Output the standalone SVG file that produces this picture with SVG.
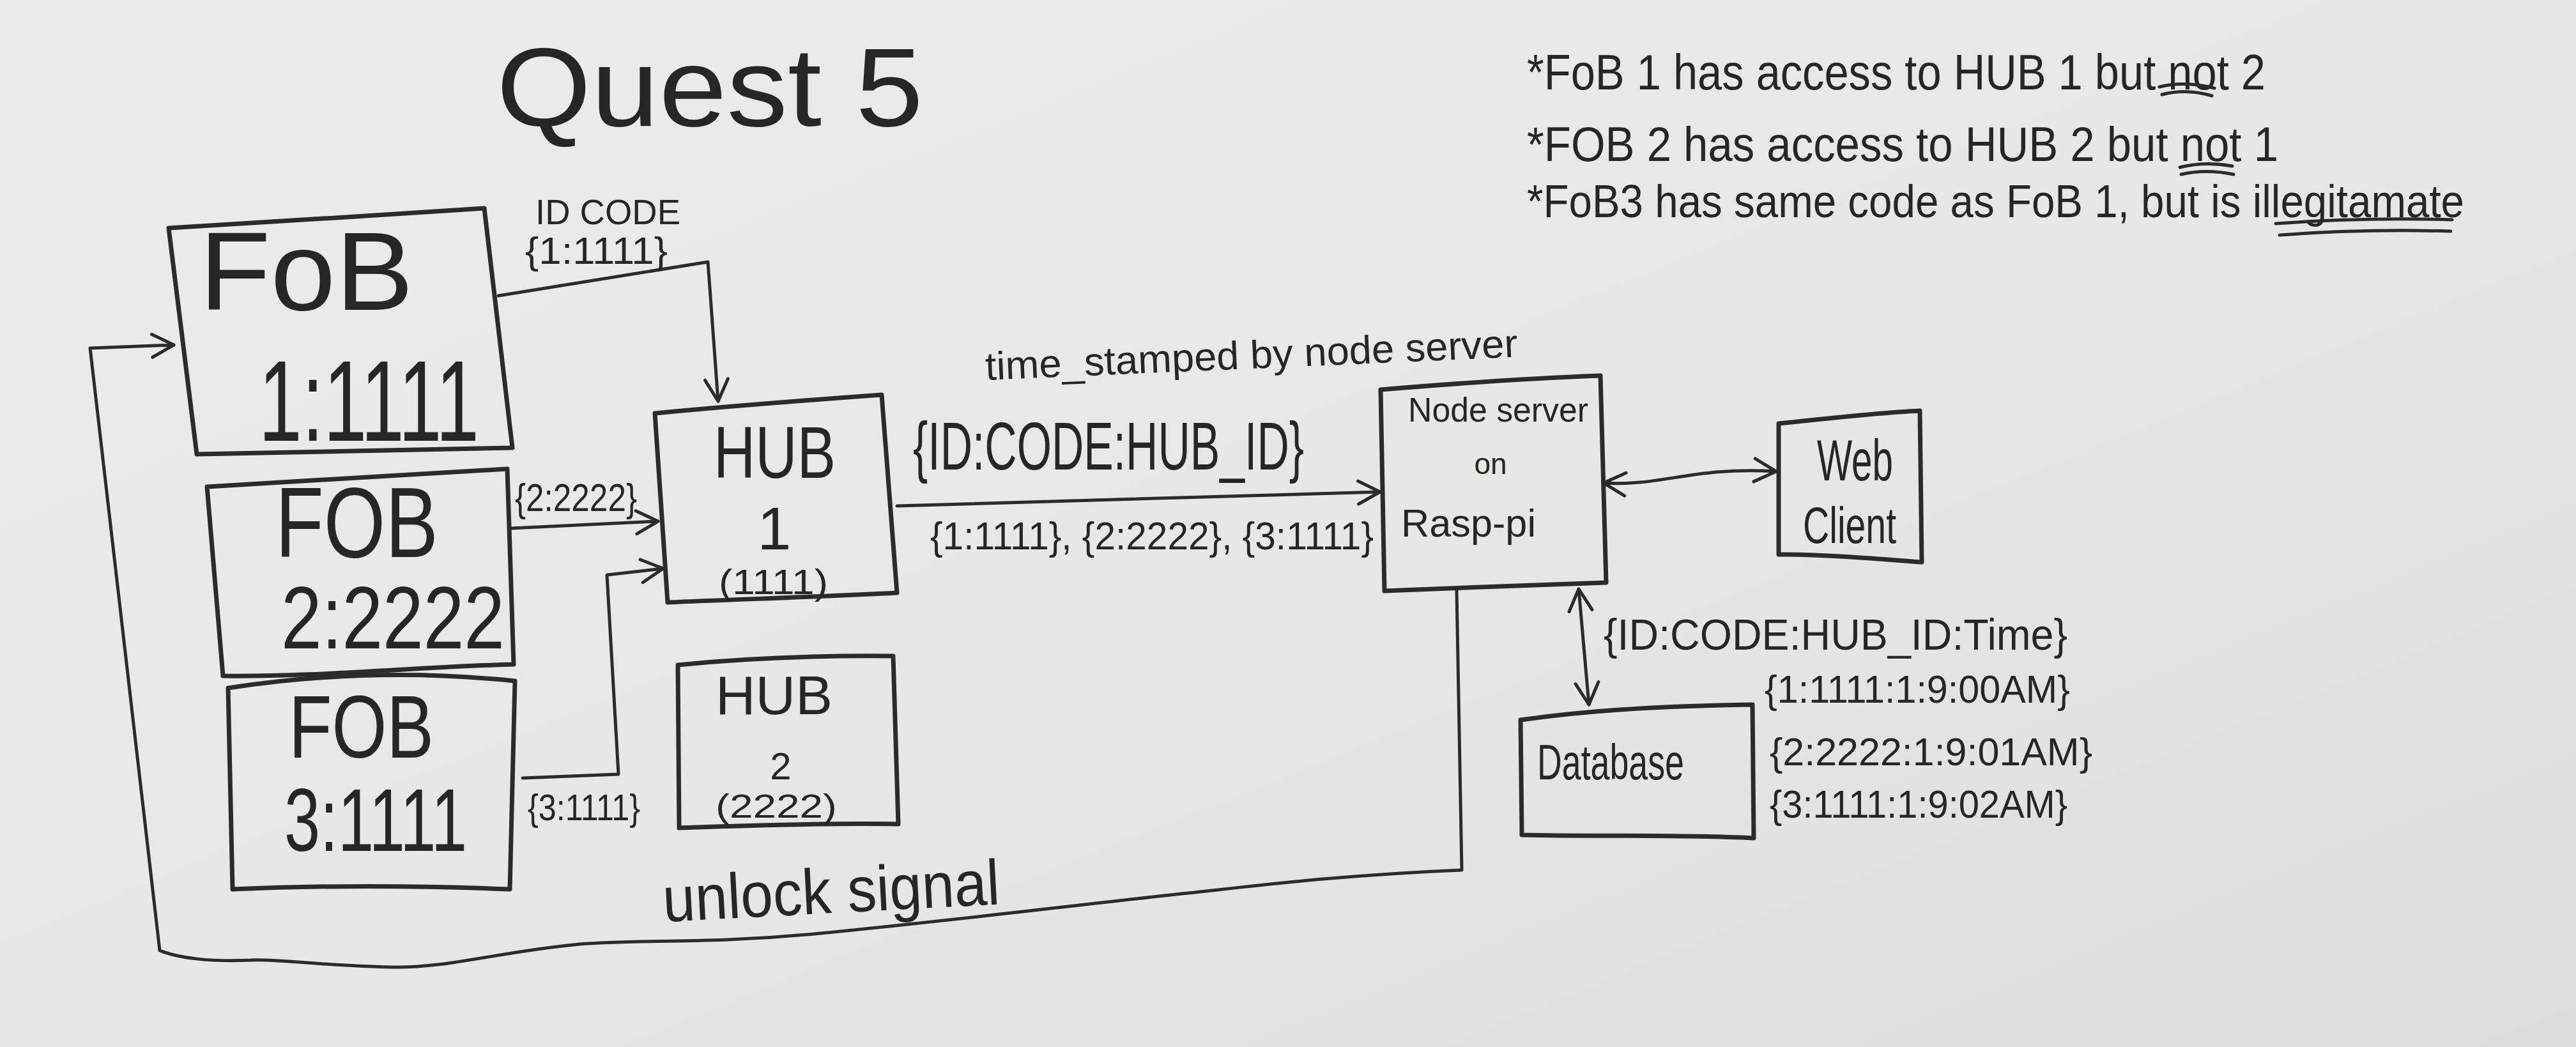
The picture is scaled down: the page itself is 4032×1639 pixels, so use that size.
<svg xmlns="http://www.w3.org/2000/svg" width="4032" height="1639" viewBox="0 0 4032 1639">
<defs>
<linearGradient id="bg" x1="0" y1="0" x2="1" y2="1">
<stop offset="0" stop-color="#ececea"/>
<stop offset="0.6" stop-color="#e6e6e4"/>
<stop offset="1" stop-color="#dcdcda"/>
</linearGradient>
<marker id="ah" viewBox="0 0 44 44" refX="40" refY="22" markerWidth="44" markerHeight="44" orient="auto-start-reverse" markerUnits="userSpaceOnUse">
<path d="M6,4 L40,22 L6,40" fill="none" stroke="#2b2b2b" stroke-width="5" stroke-linecap="round" stroke-linejoin="round"/>
</marker>
<style>
.box{fill:none;stroke:#2b2b2b;stroke-width:7;stroke-linejoin:round;stroke-linecap:round}
.con{fill:none;stroke:#2b2b2b;stroke-width:5;stroke-linejoin:round;stroke-linecap:round}
.ul{fill:none;stroke:#2b2b2b;stroke-width:5;stroke-linecap:round}
text{font-family:"Liberation Sans Narrow","Liberation Sans",Arial,sans-serif;fill:#262626}
</style>
</defs>
<rect x="0" y="0" width="4032" height="1639" fill="url(#bg)"/>

<g id="title">
<text x="777" y="197" font-size="175" textLength="668" lengthAdjust="spacingAndGlyphs">Quest 5</text>
</g>

<g id="notes">
<text x="2390" y="140" font-size="78" textLength="1156" lengthAdjust="spacingAndGlyphs">*FoB 1 has access to HUB 1 but not 2</text>
<text x="2390" y="252" font-size="76" textLength="1176" lengthAdjust="spacingAndGlyphs">*FOB 2 has access to HUB 2 but not 1</text>
<text x="2390" y="340" font-size="72" textLength="1467" lengthAdjust="spacingAndGlyphs">*FoB3 has same code as FoB 1, but is illegitamate</text>
<path class="ul" d="M3380,136 Q3420,126 3466,138"/>
<path class="ul" d="M3384,148 Q3422,138 3462,150"/>
<path class="ul" d="M3412,262 Q3452,252 3494,260"/>
<path class="ul" d="M3414,273 Q3452,264 3496,273"/>
<path class="ul" d="M3562,350 Q3700,340 3838,344"/>
<path class="ul" d="M3568,368 Q3700,358 3836,362"/>
</g>

<g id="fob1">
<path class="box" d="M264,357 C420,348 600,336 758,326 L802,701 C640,704 470,708 308,711 Z"/>
<text x="312" y="485" font-size="175" textLength="335" lengthAdjust="spacingAndGlyphs">FoB</text>
<text x="405" y="690" font-size="180" textLength="345" lengthAdjust="spacingAndGlyphs">1:1111</text>
</g>

<g id="fob2">
<path class="box" d="M324,762 C480,752 640,744 794,734 L804,1040 C650,1044 500,1060 349,1058 Z"/>
<text x="431" y="872" font-size="155" textLength="255" lengthAdjust="spacingAndGlyphs">FOB</text>
<text x="440" y="1015" font-size="140" textLength="350" lengthAdjust="spacingAndGlyphs">2:2222</text>
</g>

<g id="fob3">
<path class="box" d="M357,1077 C500,1055 650,1050 806,1066 L798,1392 C650,1386 500,1386 364,1392 Z"/>
<text x="452" y="1186" font-size="140" textLength="227" lengthAdjust="spacingAndGlyphs">FOB</text>
<text x="445" y="1332" font-size="140" textLength="286" lengthAdjust="spacingAndGlyphs">3:1111</text>
</g>

<g id="hub1">
<path class="box" d="M1025,647 C1150,635 1270,626 1380,618 L1404,928 C1290,934 1160,938 1045,943 Z"/>
<text x="1117" y="748" font-size="115" textLength="191" lengthAdjust="spacingAndGlyphs">HUB</text>
<text x="1212" y="860" font-size="95" text-anchor="middle">1</text>
<text x="1125" y="930" font-size="55" textLength="171" lengthAdjust="spacingAndGlyphs">(1111)</text>
</g>

<g id="hub2">
<path class="box" d="M1061,1041 C1170,1030 1290,1026 1398,1027 L1406,1290 C1290,1288 1170,1292 1063,1296 Z"/>
<text x="1120" y="1118" font-size="85" textLength="183" lengthAdjust="spacingAndGlyphs">HUB</text>
<text x="1222" y="1220" font-size="60" text-anchor="middle">2</text>
<text x="1120" y="1280" font-size="52" textLength="190" lengthAdjust="spacingAndGlyphs">(2222)</text>
</g>

<g id="nodeserver">
<path class="box" d="M2161,610 C2280,600 2400,592 2505,588 L2514,912 C2400,916 2280,920 2167,925 Z"/>
<text x="2204" y="660" font-size="54" textLength="282" lengthAdjust="spacingAndGlyphs">Node server</text>
<text x="2333" y="742" font-size="46" text-anchor="middle">on</text>
<text x="2193" y="840" font-size="62" textLength="211" lengthAdjust="spacingAndGlyphs">Rasp-pi</text>
</g>

<g id="webclient">
<path class="box" d="M2784,663 C2860,655 2940,646 3005,643 L3008,880 C2930,874 2860,868 2784,868 Z"/>
<text x="2844" y="752" font-size="90" textLength="119" lengthAdjust="spacingAndGlyphs">Web</text>
<text x="2822" y="850" font-size="80" textLength="146" lengthAdjust="spacingAndGlyphs">Client</text>
</g>

<g id="database">
<path class="box" d="M2380,1127 C2500,1110 2620,1105 2743,1103 L2745,1312 C2620,1306 2500,1310 2382,1307 Z"/>
<text x="2406" y="1220" font-size="78" textLength="230" lengthAdjust="spacingAndGlyphs">Database</text>
</g>

<g id="connectors">
<path class="con" d="M780,463 L1108,410 L1124,628" marker-end="url(#ah)"/>
<path class="con" d="M800,827 L1030,816" marker-end="url(#ah)"/>
<path class="con" d="M818,1218 L968,1212 L950,900 L1038,890" marker-end="url(#ah)"/>
<path class="con" d="M1404,792 L2160,770" marker-end="url(#ah)"/>
<path class="con" d="M2510,756 C2600,762 2650,730 2780,738" marker-start="url(#ah)" marker-end="url(#ah)"/>
<path class="con" d="M2471,922 L2487,1103" marker-start="url(#ah)" marker-end="url(#ah)"/>
<path class="con" d="M2280,925 L2288,1362 C2100,1370 1980,1385 1860,1398 C1700,1415 1500,1440 1274,1462 C1100,1478 1000,1470 907,1478 C780,1490 700,1516 613,1514 C500,1512 430,1500 393,1503 C330,1506 280,1500 250,1488 L141,545 L272,540" marker-end="url(#ah)"/>
</g>

<g id="labels">
<text x="838" y="351" font-size="55" textLength="227" lengthAdjust="spacingAndGlyphs">ID CODE</text>
<text x="822" y="413" font-size="60" textLength="223" lengthAdjust="spacingAndGlyphs">{1:1111}</text>
<text x="806" y="800" font-size="62" textLength="191" lengthAdjust="spacingAndGlyphs">{2:2222}</text>
<text x="826" y="1284" font-size="58" textLength="176" lengthAdjust="spacingAndGlyphs">{3:1111}</text>
<text x="1543" y="595" font-size="62" textLength="834" lengthAdjust="spacingAndGlyphs" transform="rotate(-2.5 1543 595)">time_stamped by node server</text>
<text x="1429" y="735" font-size="105" textLength="612" lengthAdjust="spacingAndGlyphs">{ID:CODE:HUB_ID}</text>
<text x="1456" y="860" font-size="62" textLength="694" lengthAdjust="spacingAndGlyphs">{1:1111}, {2:2222}, {3:1111}</text>
<text x="2510" y="1017" font-size="68" textLength="726" lengthAdjust="spacingAndGlyphs">{ID:CODE:HUB_ID:Time}</text>
<text x="2762" y="1100" font-size="62" textLength="478" lengthAdjust="spacingAndGlyphs">{1:1111:1:9:00AM}</text>
<text x="2770" y="1198" font-size="62" textLength="505" lengthAdjust="spacingAndGlyphs">{2:2222:1:9:01AM}</text>
<text x="2770" y="1280" font-size="62" textLength="466" lengthAdjust="spacingAndGlyphs">{3:1111:1:9:02AM}</text>
<text x="1039" y="1443" font-size="100" textLength="528" lengthAdjust="spacingAndGlyphs" transform="rotate(-3 1039 1443)">unlock signal</text>
</g>
</svg>
